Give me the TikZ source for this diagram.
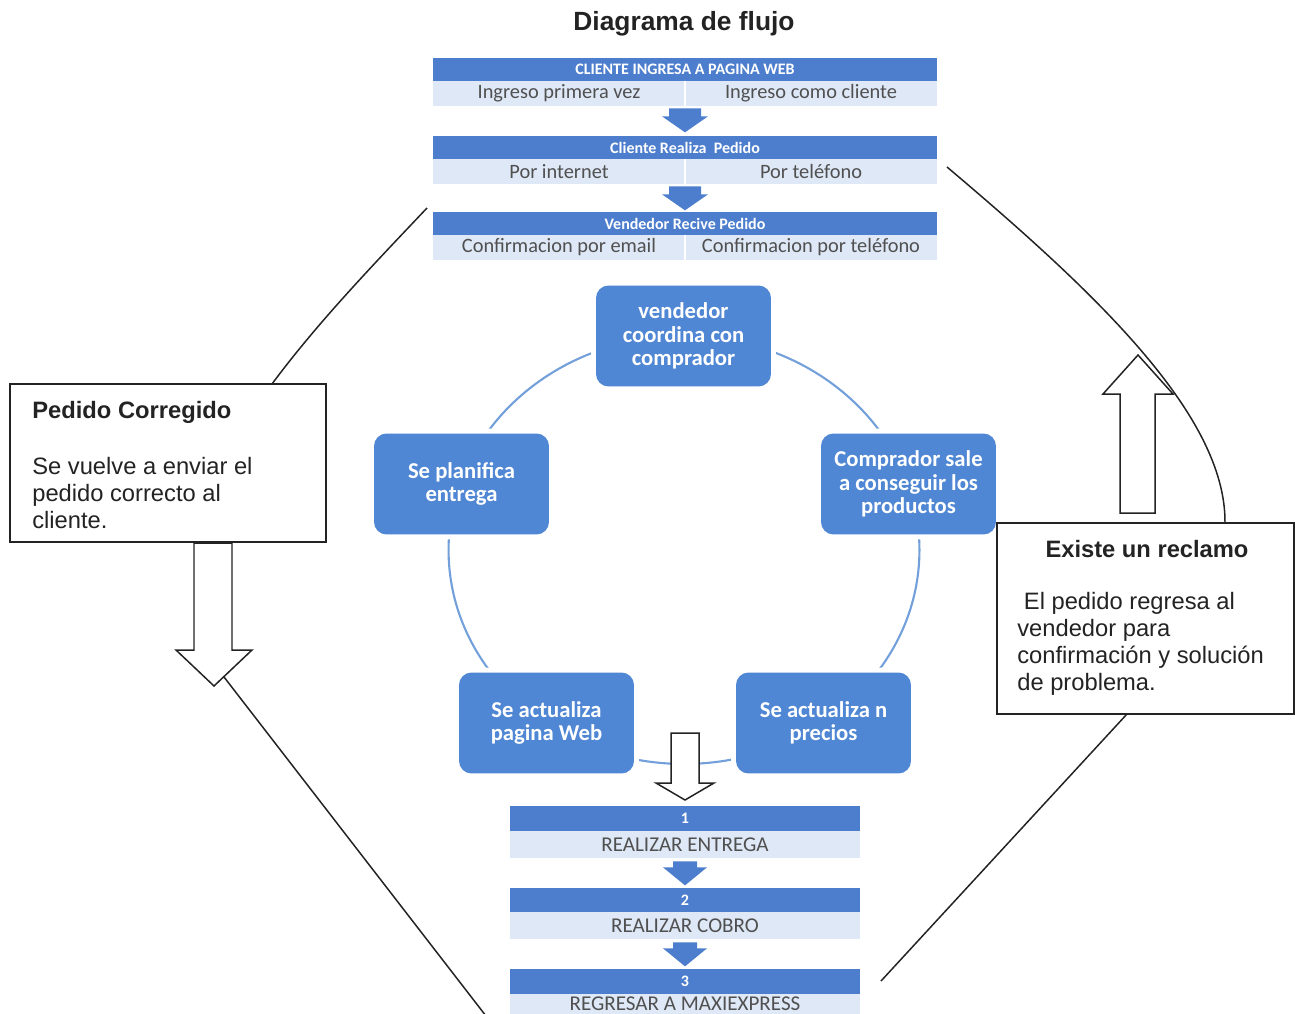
\documentclass[tikz,border=0pt]{standalone}
\usepackage{fontspec}
\setmainfont{Liberation Sans}
\newfontfamily\calfont{Carlito}
\definecolor{hdrblue}{RGB}{76,126,205}
\definecolor{rowblue}{RGB}{222,232,246}
\definecolor{cycblue}{RGB}{80,135,212}
\definecolor{arcblue}{RGB}{115,160,218}
\definecolor{rowtext}{RGB}{80,80,80}
\definecolor{ink}{RGB}{35,35,35}
\begin{document}
\begin{tikzpicture}[x=0.02cm,y=-0.02cm,
  hdr/.style={fill=hdrblue,inner sep=0pt,minimum height=0.46cm,text=white,font=\calfont\bfseries\fontsize{9.1}{10}\selectfont},
  row/.style={fill=rowblue,inner sep=0pt,minimum height=0.5cm},
  rowtxt/.style={text=rowtext,inner sep=0pt,font=\calfont\fontsize{11.6}{12}\selectfont},
  captxt/.style={text=rowtext,inner sep=0pt,font=\calfont\fontsize{12}{13}\selectfont},
  cyc/.style={fill=cycblue,rounded corners=0.25cm,minimum width=3.5cm,minimum height=2.02cm,
    text=white,align=center,inner sep=0pt,font=\calfont\bfseries\fontsize{12.9}{13.2}\selectfont,
    preaction={draw=white,line width=0.2cm}},
  side/.style={draw=ink,line width=0.85pt,fill=white,inner sep=0pt},
  sidehead/.style={anchor=base west,inner sep=0pt,text=ink,font=\bfseries\fontsize{13.5}{15}\selectfont},
  sidetxt/.style={anchor=base west,inner sep=0pt,text=ink,font=\fontsize{13.5}{15}\selectfont},
  link/.style={draw=ink,line width=0.85pt},
  hollow/.style={draw=ink,fill=white,line width=0.85pt},
  downarrow/.pic={\fill[hdrblue] (-16,0)--(16,0)--(16,8)--(23,8)--(0,24)--(-23,8)--(-16,8)--cycle;},
  downarrowsm/.pic={\fill[hdrblue] (-12,0)--(12,0)--(12,6)--(22,6)--(0,24)--(-22,6)--(-12,6)--cycle;}
]
\useasboundingbox (0,0) rectangle (1295,1014);

% title
\node[anchor=base,inner sep=0pt,text=ink,font=\bfseries\fontsize{15}{17}\selectfont] (title) at (684,31) {Diagrama de flujo};

% top blocks
\node[hdr,minimum width=10.08cm] (h1) at (685,69.5) {CLIENTE INGRESA A PAGINA WEB};
\node[row,minimum width=10.08cm] (r1) at (685,93.5) {};
\draw[white,line width=0.6pt] (r1.north) -- (r1.south);
\node[rowtxt] (r1a) at (559,93.5) {Ingreso primera vez};
\node[rowtxt] (r1b) at (811,93.5) {Ingreso como cliente};
\path (r1.south) ++(0,2) pic {downarrow};

\node[hdr,minimum width=10.08cm] (h2) at (685,147.5) {Cliente Realiza\ \ Pedido};
\node[row,minimum width=10.08cm] (r2) at (685,171.5) {};
\draw[white,line width=0.6pt] (r2.north) -- (r2.south);
\node[rowtxt] (r2a) at (559,171.5) {Por internet};
\node[rowtxt] (r2b) at (811,171.5) {Por teléfono};
\path (r2.south) ++(0,2) pic {downarrow};

\node[hdr,minimum width=10.08cm] (h3) at (685,223.5) {Vendedor Recive Pedido};
\node[row,minimum width=10.08cm] (r3) at (685,247.5) {};
\draw[white,line width=0.6pt] (r3.north) -- (r3.south);
\node[rowtxt] (r3a) at (559,247.5) {Confirmacion por email};
\node[rowtxt] (r3b) at (811,247.5) {Confirmacion por teléfono};

% cycle
\coordinate (cyccenter) at (684,550);
\draw[arcblue,line width=1.2pt] (cyccenter) ellipse [x radius=4.71cm, y radius=4.28cm];
\node[cyc] (c1) at (683.5,336) {vendedor\\coordina con\\comprador};
\node[cyc] (c2) at (908.5,484) {Comprador sale\\a conseguir los\\productos};
\node[cyc] (c3) at (823.5,723) {Se actualiza n\\precios};
\node[cyc] (c4) at (546.5,723) {Se actualiza\\pagina Web};
\node[cyc] (c5) at (461.5,484) {Se planifica\\entrega};

% central hollow arrow
\draw[hollow] (671,733) -- (699,733) -- (699,783) -- (714,783) -- (685,800) -- (656,783) -- (671,783) -- cycle;

% bottom blocks
\node[hdr,minimum width=7cm,minimum height=0.5cm] (b1h) at (685,818.5) {1};
\node[row,minimum width=7cm,minimum height=0.54cm] (b1r) at (685,844.5) {};
\node[captxt] (b1t) at (685,844.5) {REALIZAR ENTREGA};
\path (b1r.south) ++(0,3) pic {downarrowsm};
\node[hdr,minimum width=7cm,minimum height=0.48cm] (b2h) at (685,900) {2};
\node[row,minimum width=7cm,minimum height=0.54cm] (b2r) at (685,925.5) {};
\node[captxt] (b2t) at (685,925.5) {REALIZAR COBRO};
\path (b2r.south) ++(0,3) pic {downarrowsm};
\node[hdr,minimum width=7cm,minimum height=0.5cm] (b3h) at (685,981.5) {3};
\node[row,minimum width=7cm,minimum height=0.4cm] (b3r) at (685,1004) {};
\node[captxt] (b3t) at (685,1003.5) {REGRESAR A MAXIEXPRESS};

% left side box
\node[side,minimum width=6.32cm,minimum height=3.16cm] (lbox) at (168,463) {};
\node[sidehead] (lt0) at (32,418) {Pedido Corregido};
\node[sidetxt] (lt1) at (32,474) {Se vuelve a enviar el};
\node[sidetxt] (lt2) at (32,501) {pedido correcto al};
\node[sidetxt] (lt3) at (32,528) {cliente.};
\draw[hollow] (194,543) -- (232,543) -- (232,650) -- (252,650) -- (214,686) -- (176,650) -- (194,650) -- cycle;

% right side box
\node[side,minimum width=5.94cm,minimum height=3.82cm] (rbox) at (1145.5,618.5) {};
\node[anchor=base,inner sep=0pt,text=ink,font=\bfseries\fontsize{13.5}{15}\selectfont] (rt0) at (1147,557) {Existe un reclamo};
\node[sidetxt] (rt1) at (1017,609) {\ El pedido regresa al};
\node[sidetxt] (rt2) at (1017,636) {vendedor para};
\node[sidetxt] (rt3) at (1017,663) {confirmación y solución};
\node[sidetxt] (rt4) at (1017,690) {de problema.};
\draw[hollow] (1120,513) -- (1155,513) -- (1155,394) -- (1173,394) -- (1138,355) -- (1103,394) -- (1120,394) -- cycle;

% outer loop lines
\coordinate (l1s) at (427,208);
\coordinate (l1e) at (272,384);
\draw[link] (l1s) .. controls (374,264) and (318,322) .. (l1e);
\coordinate (l2s) at (224,677);
\coordinate (l2e) at (486,1016);
\draw[link] (l2s) -- (l2e);
\coordinate (r1s) at (947,167);
\coordinate (r1e) at (1225,523);
\draw[link] (r1s) .. controls (1095,292) and (1226,415) .. (r1e);
\coordinate (r2s) at (1127,714);
\coordinate (r2e) at (881,981);
\draw[link] (r2s) -- (r2e);
\end{tikzpicture}
\end{document}
